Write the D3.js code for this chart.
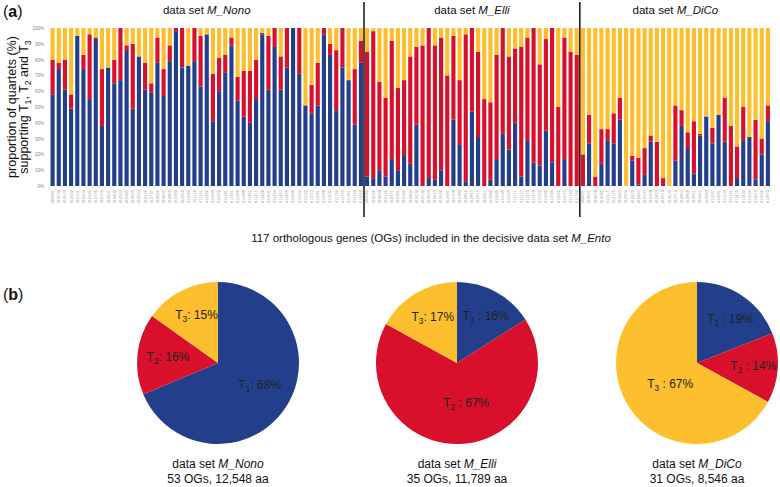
<!DOCTYPE html>
<html>
<head>
<meta charset="utf-8">
<script src="https://cdn.jsdelivr.net/npm/d3@7"></script>
<style>
	body { margin: 0; background: #fff; }
	svg { font-family: "Liberation Sans", Arial, sans-serif; }
</style>
</head>
<body>
<div id="chart"></div>
<script>
// proportion of quartets (%) supporting T1 / T2 / T3, per OG
var nonoT1 = [58, 74, 61, 49, 95, 74, 55, 93, 38, 75, 65, 67, 86, 49, 82, 61, 59, 78, 57, 79,
	98, 75, 76, 79, 63, 96, 41, 60, 72, 89, 54, 44, 40, 55, 96, 61, 88, 61, 75, 100,
	71, 51, 46, 51, 96, 83, 48, 75, 67, 39, 78];
var nonoT2 = [22, 4, 19, 9, 0, 9, 41, 1, 36, 0, 15, 33, 3, 41, 0, 17, 6, 16, 17, 10,
	2, 25, 0, 21, 32, 0, 30, 21, 11, 5, 15, 29, 33, 25, 1, 34, 12, 21, 25, 0,
	29, 0, 18, 27, 4, 7, 38, 25, 0, 35, 14];
var nonoT3 = [20, 22, 20, 42, 5, 17, 4, 6, 26, 25, 20, 0, 11, 10, 18, 22, 35, 6, 26, 11,
	0, 0, 24, 0, 5, 4, 29, 19, 17, 6, 31, 27, 27, 20, 3, 5, 0, 18, 0, 0,
	0, 49, 36, 22, 0, 10, 14, 0, 33, 26, 8];

var elliT1 = [6, 5, 10, 6, 17, 10, 19, 14, 39, 0, 5, 4, 10, 0, 42, 26, 3, 47, 31, 0,
	4, 17, 33, 23, 40, 6, 29, 15, 13, 35, 15, 0, 17, 0, 0];
var elliT2 = [79, 93, 56, 50, 75, 52, 48, 68, 49, 89, 95, 85, 84, 70, 53, 41, 93, 53, 54, 55,
	49, 66, 67, 59, 47, 82, 65, 85, 64, 58, 85, 50, 77, 85, 83];
var elliT3 = [15, 2, 34, 44, 8, 38, 33, 18, 12, 11, 0, 11, 6, 30, 5, 33, 4, 0, 15, 45,
	47, 17, 0, 18, 13, 12, 6, 0, 23, 7, 0, 50, 6, 15, 17];

var dicoT1 = [0, 27, 0, 14, 29, 27, 42, 0, 16, 1, 7, 28, 0, 0, 0, 16, 38, 24, 8, 32,
	44, 27, 45, 28, 0, 5, 29, 31, 4, 20, 41];
var dicoT2 = [20, 18, 6, 22, 7, 19, 14, 0, 3, 17, 17, 4, 28, 5, 0, 35, 10, 10, 33, 1,
	0, 10, 0, 28, 38, 20, 21, 0, 38, 10, 10];
var dicoT3 = [80, 55, 94, 64, 64, 54, 44, 100, 81, 82, 76, 68, 72, 95, 100, 49, 52, 66, 59, 67,
	56, 63, 55, 44, 62, 75, 50, 69, 58, 70, 49];

var nonoIds = ["400087", "410032", "410079", "410092", "410161", "410274", "410325", "410330", "410334", "410431",
	"410442", "410503", "410585", "410605", "410664", "410776", "410797", "410829", "410835", "410850",
	"410922", "410958", "411084", "411118", "411161", "411224", "411234", "411272", "411341", "411361",
	"411386", "411388", "411401", "411415", "411428", "411431", "411436", "411467", "411469", "411488",
	"411504", "411522", "411553", "411581", "411588", "411634", "411724", "411750", "411761", "411790",
	"411820"];
var elliIds = ["400086", "410096", "410098", "410174", "410271", "410281", "410346", "410406", "410438", "410532",
	"410574", "410615", "410636", "410681", "410708", "410782", "410816", "410863", "410915", "410951",
	"410986", "411049", "411149", "411160", "411171", "411177", "411275", "411278", "411352", "411448",
	"411586", "411660", "411675", "411743", "411790"];
var dicoIds = ["400031", "410051", "410078", "410080", "410115", "410175", "410223", "410274", "410279", "410293",
	"410333", "410338", "410409", "410518", "410630", "410712", "410857", "410868", "410951", "410961",
	"410993", "411037", "411091", "411139", "411161", "411410", "411424", "411536", "411615", "411636",
	"411872"];

var yTicks = [0, 10, 20, 30, 40, 50, 60, 70, 80, 90, 100];

// panel (b)
var setNames = ["M_Nono", "M_Elli", "M_DiCo"];
var setOGs = ["53 OGs, 12,548 aa", "35 OGs, 11,789 aa", "31 OGs, 8,546 aa"];
var nonoPie = [68, 16, 15];
var elliPie = [16, 67, 17];
var dicoPie = [19, 14, 67];
var pieSeps = [[": ", ": ", ": "], [" : ", " : ", ": "], [" : ", " : ", " : "]];

var colors = ["#233f8b", "#d8102b", "#fdbf2e"];

const width = 780, height = 487;

const svg = d3.select("#chart").append("svg")
	.attr("width", width)
	.attr("height", height);

drawBars();
drawPies();

// writes pieces into a text element; pieces marked sub are lowered and smaller
function runs(parent, pieces) {
	var shift = 0;
	pieces.forEach(function(p) {
		var t = parent.append("tspan").text(p.s);
		var want = p.sub ? 3 : 0;
		if (want != shift) t.attr("dy", want - shift);
		if (p.sub) t.attr("font-size", "0.7em");
		if (p.it) t.attr("font-style", "italic");
		shift = want;
	});
}

function drawBars() {
	var rows = [];
	var groups = [[nonoT1, nonoT2, nonoT3, nonoIds], [elliT1, elliT2, elliT3, elliIds], [dicoT1, dicoT2, dicoT3, dicoIds]];
	groups.forEach(function(g, gi) {
		g[0].forEach(function(v, i) {
			rows.push({ idx: rows.length, group: gi, id: g[3][i], t1: v, t2: g[1][i], t3: g[2][i] });
		});
	});

	const x = d3.scaleBand()
		.domain(rows.map(d => d.idx))
		.range([48.5, 772])
		.padding(0.33);

	const y = d3.scaleLinear()
		.domain([0, 100])
		.range([186, 28]);

	const series = d3.stack().keys(["t1", "t2", "t3"])(rows);

	svg.append("g")
		.selectAll("g")
		.data(series)
		.enter()
		.append("g")
		.attr("fill", (d, i) => colors[i])
		.selectAll("rect")
		.data(d => d)
		.enter()
		.append("rect")
		.attr("x", d => x(d.data.idx))
		.attr("width", x.bandwidth())
		.attr("y", d => y(d[1]))
		.attr("height", d => y(d[0]) - y(d[1]));

	// y axis
	const yAxis = svg.append("g")
		.attr("transform", "translate(45,0)")
		.call(d3.axisLeft(y).tickValues(yTicks).tickFormat(d => d + "%").tickSize(0).tickPadding(1));
	yAxis.select(".domain").remove();
	yAxis.selectAll("text")
		.attr("font-size", 4.5)
		.attr("font-family", "Liberation Sans, Arial, sans-serif")
		.attr("fill", "#888");

	// OG labels
	const xAxis = svg.append("g")
		.attr("transform", "translate(0,186)")
		.call(d3.axisBottom(x).tickFormat(i => rows[i].id).tickSize(0));
	xAxis.select(".domain").remove();
	xAxis.selectAll("text")
		.attr("font-size", 4)
		.attr("font-family", "Liberation Sans, Arial, sans-serif")
		.attr("fill", "#999")
		.attr("text-anchor", "end")
		.attr("x", 0)
		.attr("y", 0)
		.attr("dy", "0.35em")
		.attr("transform", "translate(0,4) rotate(-90)");

	// group separators and titles
	var counts = [nonoT1.length, elliT1.length, dicoT1.length];
	var start = 0;
	counts.forEach(function(n, gi) {
		var first = x(start), last = x(start + n - 1) + x.bandwidth();
		var title = svg.append("text")
			.attr("x", (first + last) / 2)
			.attr("y", 14)
			.attr("text-anchor", "middle")
			.attr("font-size", 11.5)
			.attr("fill", "#111");
		runs(title, [{ s: "data set " }, { s: setNames[gi], it: true }]);
		if (gi > 0) {
			var sx = (x(start - 1) + x.bandwidth() + x(start)) / 2;
			svg.append("line")
				.attr("x1", sx).attr("x2", sx)
				.attr("y1", 2).attr("y2", 217)
				.attr("stroke", "#111")
				.attr("stroke-width", 1.5);
		}
		start += n;
	});

	// axis titles
	svg.append("text")
		.attr("transform", "translate(16,107) rotate(-90)")
		.attr("text-anchor", "middle")
		.attr("font-size", 12.5)
		.attr("fill", "#111")
		.text("proportion of quartets (%)");
	var l2 = svg.append("text")
		.attr("transform", "translate(28,107) rotate(-90)")
		.attr("text-anchor", "middle")
		.attr("font-size", 12.5)
		.attr("fill", "#111");
	runs(l2, [{ s: "supporting T" }, { s: "1", sub: true }, { s: ", T" }, { s: "2", sub: true },
		{ s: " and T" }, { s: "3", sub: true }]);

	var xt = svg.append("text")
		.attr("x", 431)
		.attr("y", 242)
		.attr("text-anchor", "middle")
		.attr("font-size", 11.5)
		.attr("fill", "#111");
	runs(xt, [{ s: "117 orthologous genes (OGs) included in the decisive data set " }, { s: "M_Ento", it: true }]);

	panelLabel("a", 3, 17);
	panelLabel("b", 3, 300);
}

function panelLabel(letter, px, py) {
	var t = svg.append("text")
		.attr("x", px)
		.attr("y", py)
		.attr("font-size", 16)
		.attr("fill", "#111");
	t.append("tspan").text("(");
	t.append("tspan").attr("font-weight", "bold").text(letter);
	t.append("tspan").text(")");
}

function drawPies() {
	var pies = [nonoPie, elliPie, dicoPie];
	var centers = [218, 457, 697];
	const r = 81;
	const pie = d3.pie().sort(null).value(d => d);
	const arc = d3.arc().innerRadius(0).outerRadius(r);

	pies.forEach(function(values, pi) {
		const g = svg.append("g")
			.attr("transform", "translate(" + centers[pi] + ",363)");
		const arcs = pie(values);

		g.selectAll("path")
			.data(arcs)
			.enter()
			.append("path")
			.attr("d", arc)
			.attr("fill", (d, i) => colors[i]);

		arcs.forEach(function(a, i) {
			var lr = a.data > 50 ? r * 0.5 : r * 0.66;
			var c = d3.arc().innerRadius(lr).outerRadius(lr).centroid(a);
			var t = g.append("text")
				.attr("x", c[0] + (a.data > 50 ? 8 : 3))
				.attr("y", c[1] + 4)
				.attr("text-anchor", "middle")
				.attr("font-size", 12)
				.attr("fill", "#222");
			runs(t, [{ s: "T" }, { s: String(i + 1), sub: true }, { s: pieSeps[pi][i] + a.data + "%" }]);
		});

		var cap = svg.append("text")
			.attr("x", centers[pi])
			.attr("y", 468)
			.attr("text-anchor", "middle")
			.attr("font-size", 12)
			.attr("fill", "#111");
		runs(cap, [{ s: "data set " }, { s: setNames[pi], it: true }]);
		svg.append("text")
			.attr("x", centers[pi])
			.attr("y", 483)
			.attr("text-anchor", "middle")
			.attr("font-size", 12)
			.attr("fill", "#111")
			.text(setOGs[pi]);
	});
}
</script>
</body>
</html>
